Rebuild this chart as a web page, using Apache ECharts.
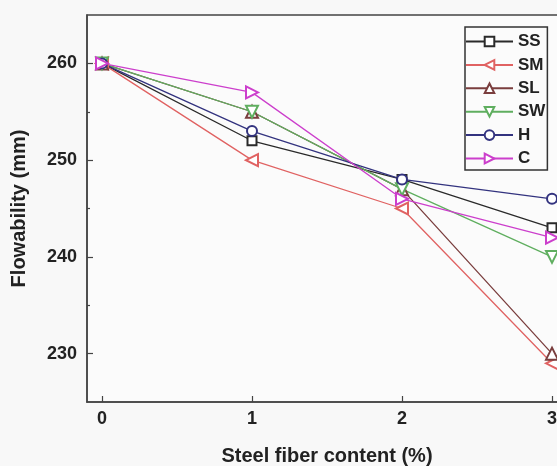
<!DOCTYPE html>
<html>
<head>
<meta charset="utf-8">
<script src="https://cdn.jsdelivr.net/npm/echarts@6/dist/echarts.min.js"></script>
<style>
  html, body { margin: 0; padding: 0; background: #f8f8f8; }
  #chart { width: 557px; height: 466px; }
</style>
</head>
<body>
<div id="chart"></div>
<script>
// Steel fiber content (%) on the x axis
const fiberContent = [0, 1, 2, 3];
// Flowability (mm) for each fiber type
const seriesNames = ['SS', 'SM', 'SL', 'SW', 'H', 'C'];
const flowSS = [260, 252, 248, 243];
const flowSM = [260, 250, 245, 229];
const flowSL = [260, 255, 247, 230];
const flowSW = [260, 255, 247, 240];
const flowH  = [260, 253, 248, 246];
const flowC  = [260, 257, 246, 242];
const yTickLabels = [230, 240, 250, 260];
const yMinorTicks = [235, 245, 255];

const font = '"Liberation Sans", Arial, sans-serif';

const styles = {
  SS: { color: '#2a2a2a', symbol: 'emptyRect', size: 9, rotate: 0 },
  SM: { color: '#e06262', symbol: 'emptyTriangle', size: 12, rotate: 90 },
  SL: { color: '#7a3e3e', symbol: 'emptyTriangle', size: 12, rotate: 0 },
  SW: { color: '#5fae5f', symbol: 'emptyTriangle', size: 12, rotate: 180 },
  H:  { color: '#33337f', symbol: 'emptyCircle', size: 10, rotate: 0 },
  C:  { color: '#cc3fcc', symbol: 'emptyTriangle', size: 12, rotate: -90 }
};
const values = { SS: flowSS, SM: flowSM, SL: flowSL, SW: flowSW, H: flowH, C: flowC };

const series = seriesNames.map(name => {
  const s = styles[name];
  return {
    name: name,
    type: 'line',
    data: fiberContent.map((x, i) => [x, values[name][i]]),
    symbol: s.symbol,
    symbolSize: s.size,
    symbolRotate: s.rotate,
    lineStyle: { color: s.color, width: 1.3 },
    itemStyle: { color: s.color, borderColor: s.color, borderWidth: 1.3 },
    emphasis: { disabled: true },
    animation: false
  };
});

const chart = echarts.init(document.getElementById('chart'), null, { renderer: 'canvas' });
chart.setOption({
  backgroundColor: '#f8f8f8',
  animation: false,
  grid: {
    left: 87, top: 15, width: 480, height: 387,
    containLabel: false, outerBoundsMode: 'none',
    show: true, borderColor: '#444', borderWidth: 1.5, backgroundColor: '#fbfbfb'
  },
  legend: {
    orient: 'vertical',
    left: 465, top: 27,
    data: seriesNames,
    itemWidth: 47, itemHeight: 12, itemGap: 6.4,
    padding: [6, 2, 3, 0],
    backgroundColor: '#fbfbfb',
    borderColor: '#333', borderWidth: 1.5,
    textStyle: { fontFamily: font, fontWeight: 'bold', fontSize: 17, color: '#222' }
  },
  xAxis: {
    type: 'value',
    min: -0.1, max: 3.1,
    name: 'Steel fiber content (%)',
    nameLocation: 'middle', nameGap: 44,
    nameTextStyle: { fontFamily: font, fontWeight: 'bold', fontSize: 20, color: '#222' },
    axisLine: { show: true, onZero: false, lineStyle: { color: '#444', width: 1.5 } },
    axisTick: { show: true, inside: true, length: 6, customValues: fiberContent, lineStyle: { color: '#444', width: 1.2 } },
    axisLabel: { customValues: fiberContent, margin: 8, fontFamily: font, fontWeight: 'bold', fontSize: 18, color: '#222' },
    splitLine: { show: false }
  },
  yAxis: [{
    type: 'value',
    min: 225, max: 265,
    name: 'Flowability (mm)',
    nameLocation: 'middle', nameGap: 58,
    nameTextStyle: { fontFamily: font, fontWeight: 'bold', fontSize: 20, color: '#222' },
    axisLine: { show: true, onZero: false, lineStyle: { color: '#444', width: 1.5 } },
    axisTick: { show: true, inside: true, length: 6, customValues: yTickLabels, lineStyle: { color: '#444', width: 1.2 } },
    axisLabel: { customValues: yTickLabels, margin: 10, fontFamily: font, fontWeight: 'bold', fontSize: 18, color: '#222' },
    splitLine: { show: false }
  }, {
    type: 'value',
    position: 'left',
    min: 225, max: 265,
    axisLine: { show: false, onZero: false },
    axisTick: { show: true, inside: true, length: 3, customValues: yMinorTicks, lineStyle: { color: '#444', width: 1.2 } },
    axisLabel: { show: false },
    splitLine: { show: false }
  }],
  series: series
});
</script>
</body>
</html>
